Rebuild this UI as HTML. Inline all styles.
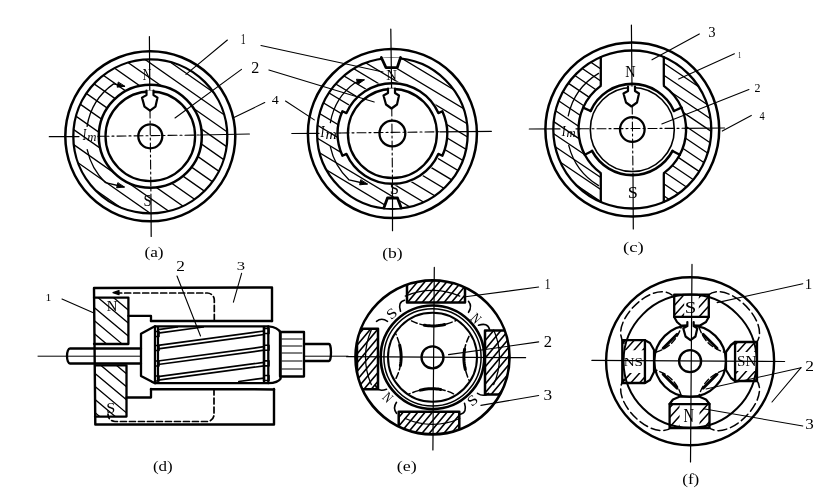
<!DOCTYPE html><html><head><meta charset="utf-8"><style>html,body{margin:0;padding:0;background:#fff;}svg{display:block;font-family:"Liberation Serif",serif;filter:grayscale(1);}</style></head><body><svg width="837" height="496" viewBox="0 0 837 496" fill="none" stroke="#000" stroke-linecap="round" stroke-linejoin="round">
<defs>
</defs>
<rect x="0" y="0" width="837" height="496" fill="#fff" stroke="none"/>
<clipPath id="hc1"><path d="M73.3 136.3a77 77 0 1 0 154 0a77 77 0 1 0 -154 0ZM98.8 136.3a51.5 51.5 0 1 0 103 0a51.5 51.5 0 1 0 -103 0Z" clip-rule="evenodd" fill-rule="evenodd"/></clipPath>
<g clip-path="url(#hc1)"><path d="M-42.18 -146.71L482.07 220.38M-49.24 -136.63L475.02 230.46M-56.29 -126.56L467.96 240.53M-63.35 -116.48L460.91 250.61M-70.4 -106.41L453.85 260.68M-77.46 -96.33L446.8 270.76M-84.51 -86.25L439.74 280.83M-91.57 -76.18L432.69 290.91M-98.62 -66.1L425.63 300.99M-105.68 -56.03L418.58 311.06M-112.73 -45.95L411.52 321.14M-119.79 -35.88L404.47 331.21M-126.84 -25.8L397.41 341.29M-133.9 -15.73L390.36 351.36M-140.95 -5.65L383.3 361.44M-148.01 4.43L376.25 371.52M-155.06 14.5L369.19 381.59M-162.12 24.58L362.14 391.67M-169.17 34.65L355.08 401.74M-176.23 44.73L348.03 411.82" stroke-width="1.3" stroke-linecap="butt"/></g>
<circle cx="150.3" cy="136.3" r="85" stroke-width="2.5" />
<circle cx="150.3" cy="136.3" r="77" stroke-width="2.3" />
<circle cx="150.3" cy="136.3" r="51.5" stroke-width="2.5" />
<circle cx="150.3" cy="136.3" r="44.8" stroke-width="2.3" fill="#fff"/>
<circle cx="150.3" cy="136.3" r="12" stroke-width="2.3" />
<path d="M87.09 126.29A64 64 0 0 1 113.59 83.87Q119.05 85.09 124.5 86.3" stroke-width="1.3" />
<path d="M124.5 86.3L117.14 87.17L118.2 82.39Z" fill="#000" stroke-width="1.0"/>
<path d="M87.21 149.71A64.5 64.5 0 0 0 105.49 182.7Q114.75 184.85 124 187" stroke-width="1.3" />
<path d="M124 187L116.63 187.8L117.74 183.03Z" fill="#000" stroke-width="1.0"/>
<line x1="49.3" y1="136.7" x2="79" y2="136.6" stroke-width="1.2" />
<line x1="98" y1="136.4" x2="100" y2="136.3" stroke-width="1.2" />
<line x1="200" y1="135" x2="249.4" y2="134" stroke-width="1.2" />
<line x1="100" y1="136.3" x2="200" y2="135" stroke-width="1.1" stroke-dasharray="9 3 2 3"/>
<line x1="149.4" y1="36.5" x2="149.8" y2="92" stroke-width="1.2" />
<line x1="149.8" y1="92" x2="151" y2="200" stroke-width="1.1" stroke-dasharray="9 3 2 3"/>
<line x1="151" y1="200" x2="151.2" y2="236.5" stroke-width="1.2" />
<path d="M146.5 90.6L146.5 95.1L142 97.6L144.5 106.6L150 110.6L155.5 106.6L157.5 97.6L153.5 95.1L153.5 90.6" stroke-width="2.2" fill="#fff"/>
<line x1="227.4" y1="40" x2="186" y2="74.4" stroke-width="1.1" />
<line x1="241.5" y1="69.4" x2="175" y2="118" stroke-width="1.1" />
<line x1="264.7" y1="102.6" x2="233.4" y2="117.7" stroke-width="1.1" />
<clipPath id="hc2"><path d="M317.1 133.5a75.3 75.3 0 1 0 150.6 0a75.3 75.3 0 1 0 -150.6 0ZM340.4 133.5a52 52 0 1 0 104 0a52 52 0 1 0 -104 0Z" clip-rule="evenodd" fill-rule="evenodd"/></clipPath>
<g clip-path="url(#hc2)"><path d="M176.84 -129.06L725.42 200.57M171.07 -119.46L719.66 210.17M165.3 -109.86L713.89 219.77M159.53 -100.25L708.12 229.37M153.76 -90.65L702.35 238.97M147.99 -81.05L696.58 248.57M142.23 -71.45L690.81 258.17M136.46 -61.85L685.04 267.77M130.69 -52.25L679.28 277.37M124.92 -42.65L673.51 286.97M119.15 -33.05L667.74 296.57M113.38 -23.45L661.97 306.17M107.62 -13.85L656.2 315.77M101.85 -4.25L650.43 325.37M96.08 5.35L644.67 334.97M90.31 14.95L638.9 344.57M84.54 24.55L633.13 354.17M78.77 34.15L627.36 363.77M73.01 43.75L621.59 373.37M67.24 53.35L615.82 382.97M61.47 62.95L610.06 392.57" stroke-width="1.3" stroke-linecap="butt"/></g>
<circle cx="392.4" cy="133.5" r="84.5" stroke-width="2.5" />
<circle cx="392.4" cy="133.5" r="75.3" stroke-width="2.3" />
<path d="M438.35 113.04A50.3 50.3 0 0 0 346.45 113.04L342.43 111.25A54.7 54.7 0 0 0 342.43 155.75L346.45 153.96A50.3 50.3 0 0 0 438.35 153.96L442.37 155.75A54.7 54.7 0 0 0 442.37 111.25L438.35 113.04Z" stroke-width="2.4" fill="#fff"/>
<circle cx="392.4" cy="133.5" r="44.5" stroke-width="2.3" />
<circle cx="392.4" cy="133.5" r="12.9" stroke-width="2.3" />
<path d="M381.3 57.5L386 67.7L397.2 67.7L400.6 57.5" stroke-width="2.8" fill="#fff"/>
<path d="M383.8 208L387.5 198L397.5 198L401.2 208" stroke-width="2.8" fill="#fff"/>
<path d="M330.36 122.56A63 63 0 0 1 355.37 82.53Q359.68 81.27 364 80" stroke-width="1.3" />
<path d="M364 80L357.97 84.32L356.59 79.62Z" fill="#000" stroke-width="1.0"/>
<path d="M330.29 146.7A63.5 63.5 0 0 0 349.09 179.94Q358.05 181.97 367 184" stroke-width="1.3" />
<path d="M367 184L359.63 184.84L360.71 180.06Z" fill="#000" stroke-width="1.0"/>
<line x1="291.8" y1="133.5" x2="319" y2="133.3" stroke-width="1.2" />
<line x1="337" y1="133.1" x2="340" y2="133" stroke-width="1.2" />
<line x1="440" y1="131.8" x2="491.4" y2="131.3" stroke-width="1.2" />
<line x1="340" y1="133" x2="440" y2="131.8" stroke-width="1.1" stroke-dasharray="9 3 2 3"/>
<line x1="390.8" y1="29" x2="391.6" y2="90" stroke-width="1.2" />
<line x1="391.6" y1="90" x2="392.5" y2="185" stroke-width="1.1" stroke-dasharray="9 3 2 3"/>
<line x1="392.5" y1="185" x2="392.5" y2="230.7" stroke-width="1.2" />
<path d="M388 88.5L388 93L383.5 95.5L386 104.5L391.5 108.5L397 104.5L399 95.5L395 93L395 88.5" stroke-width="2.2" fill="#fff"/>
<line x1="261" y1="45.5" x2="383" y2="72" stroke-width="1.1" />
<line x1="268.9" y1="70" x2="374.2" y2="102" stroke-width="1.1" />
<line x1="285.5" y1="101" x2="314.3" y2="119.9" stroke-width="1.1" />
<clipPath id="hc3"><path d="M553.3 129.5a79 79 0 1 0 158 0a79 79 0 1 0 -158 0ZM578.5 129.5a53.8 53.8 0 1 0 107.6 0a53.8 53.8 0 1 0 -107.6 0Z" clip-rule="evenodd" fill-rule="evenodd"/></clipPath>
<g clip-path="url(#hc3)"><path d="M429.96 -142.78L960.55 215.11M424.37 -134.49L954.96 223.4M418.78 -126.2L949.36 231.69M413.19 -117.91L943.77 239.98M407.6 -109.62L938.18 248.27M402 -101.33L932.59 256.56M396.41 -93.03L927 264.85M390.82 -84.74L921.4 273.14M385.23 -76.45L915.81 281.43M379.64 -68.16L910.22 289.72M374.04 -59.87L904.63 298.01M368.45 -51.58L899.04 306.3M362.86 -43.29L893.44 314.59M357.27 -35L887.85 322.88M351.68 -26.71L882.26 331.17M346.08 -18.42L876.67 339.46M340.49 -10.13L871.08 347.75M334.9 -1.84L865.48 356.04M329.31 6.45L859.89 364.33M323.72 14.74L854.3 372.62M318.12 23.03L848.71 380.91M312.53 31.32L843.12 389.2M306.94 39.61L837.53 397.49M301.35 47.9L831.93 405.79" stroke-width="1.3" stroke-linecap="butt"/></g>
<path d="M600.8 40H663.8V100H600.8Z M600.8 160H663.8V222H600.8Z" fill="#fff" stroke="none"/>
<circle cx="632.3" cy="129.5" r="86.9" stroke-width="2.5" />
<circle cx="632.3" cy="129.5" r="79" stroke-width="2.3" />
<line x1="600.8" y1="57.05" x2="600.8" y2="85.89" stroke-width="2.3" />
<line x1="600.8" y1="201.95" x2="600.8" y2="173.11" stroke-width="2.3" />
<line x1="663.8" y1="57.05" x2="663.8" y2="85.89" stroke-width="2.3" />
<line x1="663.8" y1="201.95" x2="663.8" y2="173.11" stroke-width="2.3" />
<path d="M578.5 129.5a53.8 53.8 0 1 0 107.6 0a53.8 53.8 0 1 0 -107.6 0Z" fill="#fff" stroke="none"/>
<path d="M679.8 154.76A53.8 53.8 0 0 0 681.45 107.62" stroke-width="2.4" />
<line x1="679.8" y1="154.76" x2="672.56" y2="150.91" stroke-width="2.3" />
<line x1="681.45" y1="107.62" x2="673.96" y2="110.95" stroke-width="2.3" />
<path d="M583.15 107.62A53.8 53.8 0 0 0 584.8 154.76" stroke-width="2.4" />
<line x1="583.15" y1="107.62" x2="590.64" y2="110.95" stroke-width="2.3" />
<line x1="584.8" y1="154.76" x2="592.04" y2="150.91" stroke-width="2.3" />
<path d="M681.45 107.62A53.8 53.8 0 0 0 663.8 85.89" stroke-width="2.3" />
<path d="M600.8 85.89A53.8 53.8 0 0 0 583.15 107.62" stroke-width="2.3" />
<path d="M584.8 154.76A53.8 53.8 0 0 0 600.8 173.11" stroke-width="2.3" />
<path d="M663.8 173.11A53.8 53.8 0 0 0 679.8 154.76" stroke-width="2.3" />
<path d="M673.96 110.95A45.6 45.6 0 0 0 590.64 110.95" stroke-width="2.6" />
<path d="M592.04 150.91A45.6 45.6 0 0 0 672.56 150.91" stroke-width="2.6" />
<circle cx="632.3" cy="129.5" r="42" stroke-width="1.6" />
<circle cx="632.3" cy="129.5" r="12.3" stroke-width="2.3" />
<path d="M568.23 115.88A65.5 65.5 0 0 1 598.57 73.36" stroke-width="1.3" />
<path d="M568.75 145.35A65.5 65.5 0 0 0 598.57 185.64" stroke-width="1.3" />
<line x1="529.3" y1="129" x2="560" y2="128.9" stroke-width="1.2" />
<line x1="576" y1="128.85" x2="580" y2="128.8" stroke-width="1.2" />
<line x1="685" y1="128.3" x2="724.6" y2="128" stroke-width="1.2" />
<line x1="580" y1="128.8" x2="685" y2="128.3" stroke-width="1.1" stroke-dasharray="9 3 2 3"/>
<line x1="631.4" y1="25" x2="632" y2="88" stroke-width="1.2" />
<line x1="632" y1="88" x2="633" y2="175" stroke-width="1.1" stroke-dasharray="9 3 2 3"/>
<line x1="633" y1="175" x2="633.3" y2="229" stroke-width="1.2" />
<path d="M628 86.5L628 91L623.5 93.5L626 102.5L631.5 106.5L637 102.5L639 93.5L635 91L635 86.5" stroke-width="2.2" fill="#fff"/>
<line x1="699.3" y1="33.9" x2="652" y2="59.8" stroke-width="1.1" />
<line x1="734.4" y1="53.7" x2="678.7" y2="79.1" stroke-width="1.1" />
<line x1="748.9" y1="89.5" x2="661.8" y2="123.9" stroke-width="1.1" />
<line x1="751.3" y1="115.4" x2="722.3" y2="131.1" stroke-width="1.1" />
<path d="M272 321L272 287.5L94 288L95.3 424.5L274 424.5L274 389" stroke-width="2.4" />
<clipPath id="hc4"><path d="M94 297.6H128.4V344H94Z M95 365.3H126.5V416.6H95Z" clip-rule="evenodd" fill-rule="evenodd"/></clipPath>
<g clip-path="url(#hc4)"><path d="M27.41 199.23L280.21 411.35M20.98 206.89L273.78 419.01M14.56 214.55L267.35 426.67M8.13 222.21L260.92 434.33M1.7 229.87L254.49 441.99M-4.73 237.53L248.07 449.65M-11.16 245.19L241.64 457.31M-17.58 252.85L235.21 464.97M-24.01 260.51L228.78 472.63M-30.44 268.17L222.36 480.29M-36.87 275.84L215.93 487.96M-43.3 283.5L209.5 495.62M-49.72 291.16L203.07 503.28M-56.15 298.82L196.64 510.94" stroke-width="1.3" stroke-linecap="butt"/></g>
<path d="M94 297.6H128.4V344H94" stroke-width="2.3" />
<path d="M95 365.3H126.5V416.6H95" stroke-width="2.3" />
<path d="M128.4 315.9H151V321" stroke-width="2.3" />
<path d="M126.5 397.5H151V389" stroke-width="2.3" />
<line x1="151" y1="321" x2="272" y2="321" stroke-width="2.5" />
<line x1="151" y1="389.2" x2="274" y2="389.4" stroke-width="2.5" />
<path d="M155 326.3H268.3V383.2H155Z" stroke-width="2.3" fill="#fff"/>
<path d="M155 326.3L151.6 328L141 333.7V375.9L151.6 381.6L155 383.2" stroke-width="2.3" />
<path d="M268.3 326.3Q278 327 280.6 332.7V378.7Q278 383 268.3 383.2" stroke-width="2.3" />
<path d="M280 332H304V376.5H280Z" stroke-width="2.3" />
<line x1="282" y1="339" x2="302" y2="339" stroke-width="1" />
<line x1="282" y1="346" x2="302" y2="346" stroke-width="1" />
<line x1="282" y1="353" x2="302" y2="353" stroke-width="1" />
<line x1="282" y1="361" x2="302" y2="361" stroke-width="1" />
<line x1="282" y1="369" x2="302" y2="369" stroke-width="1" />
<path d="M141 348.5H70A3 7.5 0 0 0 70 363.5H141" stroke-width="2.3" />
<path d="M304 344H329A2 8.5 0 0 1 329 361H304" stroke-width="2.3" />
<line x1="38" y1="356.2" x2="141" y2="356.2" stroke-width="1" />
<line x1="304" y1="356.2" x2="348" y2="356.2" stroke-width="1" />
<line x1="158" y1="329.61" x2="177.33" y2="327" stroke-width="1.7" />
<line x1="158" y1="333.11" x2="203.26" y2="327" stroke-width="1.7" />
<line x1="158" y1="345.31" x2="264" y2="331" stroke-width="1.7" />
<line x1="158" y1="348.81" x2="264" y2="334.5" stroke-width="1.7" />
<line x1="158" y1="361.01" x2="264" y2="346.7" stroke-width="1.7" />
<line x1="158" y1="364.51" x2="264" y2="350.2" stroke-width="1.7" />
<line x1="158" y1="376.71" x2="264" y2="362.4" stroke-width="1.7" />
<line x1="158" y1="380.21" x2="264" y2="365.9" stroke-width="1.7" />
<line x1="238.81" y1="381.5" x2="264" y2="378.1" stroke-width="1.7" />
<path d="M155 331.5H159V336.5H155" stroke-width="1.6" />
<path d="M155 345.5H159V350.5H155" stroke-width="1.6" />
<path d="M155 361.0H159V366.0H155" stroke-width="1.6" />
<path d="M155 376.0H159V381.0H155" stroke-width="1.6" />
<path d="M264 328.5H269V333.5H264" stroke-width="1.6" />
<path d="M264 345.3H269V350.3H264" stroke-width="1.6" />
<path d="M264 360.9H269V365.9H264" stroke-width="1.6" />
<path d="M264 375.5H269V380.5H264" stroke-width="1.6" />
<line x1="158" y1="327" x2="158" y2="381" stroke-width="2.2" />
<line x1="264" y1="327" x2="264" y2="381" stroke-width="2.6" />
<path d="M115.7 293H207A7 7 0 0 1 214.3 300V321" stroke-width="1.7" stroke-dasharray="6 3"/>
<path d="M214 389V414A7 7 0 0 1 207 421.5H115A7 7 0 0 1 108 414" stroke-width="1.7" stroke-dasharray="6 3"/>
<path d="M113 292.6L119 290.5L119 294.7Z" fill="#000" stroke-width="1.2"/>
<line x1="62" y1="299" x2="93.9" y2="313" stroke-width="1.1" />
<line x1="177" y1="276" x2="200.5" y2="336" stroke-width="1.1" />
<line x1="241.6" y1="273.4" x2="233.4" y2="302.2" stroke-width="1.1" />
<clipPath id="ce"><circle cx="432.5" cy="357.3" r="77"/></clipPath>
<g clip-path="url(#ce)">
<clipPath id="hc5"><path d="M407 270h58v32.6h-58Z" clip-rule="evenodd" fill-rule="evenodd"/></clipPath>
<g clip-path="url(#hc5)"><path d="M351.85 333.96L468.32 195.15M356.14 337.56L472.61 198.75M360.43 341.16L476.9 202.35M364.72 344.76L481.19 205.95M369.01 348.36L485.48 209.55M373.3 351.96L489.77 213.15M377.59 355.56L494.06 216.75M381.88 359.16L498.35 220.35M386.17 362.76L502.64 223.95M390.46 366.36L506.93 227.55M394.75 369.96L511.22 231.15M399.04 373.56L515.51 234.75M403.33 377.16L519.8 238.35" stroke-width="1.6" stroke-linecap="butt"/></g>
<rect x="407" y="270" width="58" height="32.6" stroke="#000" stroke-width="2.5"/>
</g>
<g clip-path="url(#ce)">
<clipPath id="hc6"><path d="M357 328.7h21v60.5h-21Z" clip-rule="evenodd" fill-rule="evenodd"/></clipPath>
<g clip-path="url(#hc6)"><path d="M293.63 403.35L398.4 278.49M297.92 406.95L402.69 282.09M302.21 410.55L406.98 285.69M306.49 414.15L411.27 289.29M310.78 417.75L415.56 292.89M315.07 421.35L419.85 296.49M319.36 424.95L424.14 300.08M323.65 428.55L428.43 303.68M327.94 432.15L432.72 307.28M332.23 435.75L437.01 310.88M336.52 439.35L441.3 314.48" stroke-width="1.6" stroke-linecap="butt"/></g>
<rect x="357" y="328.7" width="21" height="60.5" stroke="#000" stroke-width="2.5"/>
</g>
<g clip-path="url(#ce)">
<clipPath id="hc7"><path d="M485 330.5h30v64h-30Z" clip-rule="evenodd" fill-rule="evenodd"/></clipPath>
<g clip-path="url(#hc7)"><path d="M411.52 410.96L532.36 266.94M415.81 414.56L536.65 270.54M420.1 418.16L540.94 274.14M424.39 421.76L545.23 277.74M428.68 425.36L549.52 281.34M432.96 428.96L553.81 284.94M437.25 432.56L558.1 288.54M441.54 436.16L562.39 292.14M445.83 439.76L566.68 295.74M450.12 443.36L570.97 299.34M454.41 446.96L575.26 302.94M458.7 450.56L579.55 306.54M462.99 454.16L583.84 310.14M467.28 457.76L588.13 313.74" stroke-width="1.6" stroke-linecap="butt"/></g>
<rect x="485" y="330.5" width="30" height="64" stroke="#000" stroke-width="2.5"/>
</g>
<g clip-path="url(#ce)">
<clipPath id="hc8"><path d="M398.7 411.8h60.6v30h-60.6Z" clip-rule="evenodd" fill-rule="evenodd"/></clipPath>
<g clip-path="url(#hc8)"><path d="M344.12 473.85L460.6 335.04M348.41 477.45L464.89 338.64M352.7 481.05L469.18 342.24M356.99 484.65L473.47 345.84M361.28 488.25L477.76 349.44M365.57 491.85L482.05 353.04M369.86 495.45L486.34 356.64M374.15 499.05L490.63 360.24M378.44 502.65L494.92 363.84M382.73 506.25L499.21 367.44M387.02 509.85L503.5 371.04M391.31 513.45L507.79 374.64M395.6 517.05L512.08 378.24M399.89 520.65L516.37 381.84" stroke-width="1.6" stroke-linecap="butt"/></g>
<rect x="398.7" y="411.8" width="60.6" height="30" stroke="#000" stroke-width="2.5"/>
</g>
<circle cx="432.5" cy="357.3" r="77" stroke-width="2.7" />
<circle cx="432.5" cy="357.3" r="51.8" stroke-width="2.6" />
<circle cx="432.5" cy="357.3" r="48.6" stroke-width="1.5" />
<circle cx="432.5" cy="357.3" r="44.5" stroke-width="2.0" />
<g transform="rotate(0 432.5 357.3)">
<path d="M411.5 320.8Q432.5 331.3 456.5 320.3" stroke-width="1.5" stroke-dasharray="6 3"/>
<path d="M424.37 325.17L426.35 325.49L428.34 325.72L430.34 325.87L432.35 325.93L434.38 325.9L436.41 325.78L438.46 325.58L440.53 325.29L442.6 324.92L444.69 324.46" stroke-width="3.0" />
</g>
<g transform="rotate(90 432.5 357.3)">
<path d="M411.5 320.8Q432.5 331.3 456.5 320.3" stroke-width="1.5" stroke-dasharray="6 3"/>
<path d="M424.37 325.17L426.35 325.49L428.34 325.72L430.34 325.87L432.35 325.93L434.38 325.9L436.41 325.78L438.46 325.58L440.53 325.29L442.6 324.92L444.69 324.46" stroke-width="3.0" />
</g>
<g transform="rotate(180 432.5 357.3)">
<path d="M411.5 320.8Q432.5 331.3 456.5 320.3" stroke-width="1.5" stroke-dasharray="6 3"/>
<path d="M424.37 325.17L426.35 325.49L428.34 325.72L430.34 325.87L432.35 325.93L434.38 325.9L436.41 325.78L438.46 325.58L440.53 325.29L442.6 324.92L444.69 324.46" stroke-width="3.0" />
</g>
<g transform="rotate(270 432.5 357.3)">
<path d="M411.5 320.8Q432.5 331.3 456.5 320.3" stroke-width="1.5" stroke-dasharray="6 3"/>
<path d="M424.37 325.17L426.35 325.49L428.34 325.72L430.34 325.87L432.35 325.93L434.38 325.9L436.41 325.78L438.46 325.58L440.53 325.29L442.6 324.92L444.69 324.46" stroke-width="3.0" />
</g>
<path d="M493.71 384.55A67 67 0 0 0 493.71 330.05" stroke-width="1.3" />
<path d="M459.75 296.09A67 67 0 0 0 405.25 296.09" stroke-width="1.3" />
<path d="M371.29 330.05A67 67 0 0 0 371.29 384.55" stroke-width="1.3" />
<path d="M405.25 418.51A67 67 0 0 0 459.75 418.51" stroke-width="1.3" />
<g transform="rotate(0 432.5 357.3)">
<path d="M404.5 300.3Q397.5 302.3 400.5 311.3" stroke-width="1.6" />
<path d="M376.5 321.3Q381.5 317.3 387.5 321.3" stroke-width="1.6" />
</g>
<g transform="rotate(90 432.5 357.3)">
<path d="M404.5 300.3Q397.5 302.3 400.5 311.3" stroke-width="1.6" />
<path d="M376.5 321.3Q381.5 317.3 387.5 321.3" stroke-width="1.6" />
</g>
<g transform="rotate(180 432.5 357.3)">
<path d="M404.5 300.3Q397.5 302.3 400.5 311.3" stroke-width="1.6" />
<path d="M376.5 321.3Q381.5 317.3 387.5 321.3" stroke-width="1.6" />
</g>
<g transform="rotate(270 432.5 357.3)">
<path d="M404.5 300.3Q397.5 302.3 400.5 311.3" stroke-width="1.6" />
<path d="M376.5 321.3Q381.5 317.3 387.5 321.3" stroke-width="1.6" />
</g>
<circle cx="432.5" cy="357.3" r="11" stroke-width="2.3" />
<line x1="346.6" y1="356.7" x2="525.6" y2="357.7" stroke-width="1.2" />
<line x1="434.3" y1="267.4" x2="432.9" y2="450" stroke-width="1.2" />
<line x1="538.7" y1="287" x2="465.4" y2="296.8" stroke-width="1.1" />
<line x1="538.7" y1="341.9" x2="448.5" y2="354.6" stroke-width="1.1" />
<line x1="538.7" y1="395.5" x2="480.9" y2="405.4" stroke-width="1.1" />
<circle cx="690.1" cy="361.2" r="84" stroke-width="2.4" />
<circle cx="690.1" cy="361.2" r="66.6" stroke-width="2.0" />
<g transform="rotate(0 690.1 361.2)">
<path d="M708.1 295.2C728.1 279.2 772.1 323.2 756.1 343.2" stroke-width="1.5" stroke-dasharray="9 4"/>
</g>
<g transform="rotate(90 690.1 361.2)">
<path d="M708.1 295.2C728.1 279.2 772.1 323.2 756.1 343.2" stroke-width="1.5" stroke-dasharray="9 4"/>
</g>
<g transform="rotate(180 690.1 361.2)">
<path d="M708.1 295.2C728.1 279.2 772.1 323.2 756.1 343.2" stroke-width="1.5" stroke-dasharray="9 4"/>
</g>
<g transform="rotate(270 690.1 361.2)">
<path d="M708.1 295.2C728.1 279.2 772.1 323.2 756.1 343.2" stroke-width="1.5" stroke-dasharray="9 4"/>
</g>
<clipPath id="hc9"><path d="M674.2 294.6H684.2V317H674.2Z M698.8 294.6H708.8V317H698.8Z" clip-rule="evenodd" fill-rule="evenodd"/></clipPath>
<g clip-path="url(#hc9)"><path d="M634.03 330.76L710.32 246.04M638.86 335.11L715.15 250.39M643.7 339.46L719.98 254.74M648.53 343.81L724.81 259.09M653.36 348.16L729.64 263.44M658.19 352.51L734.47 267.79M663.02 356.85L739.3 272.14M667.85 361.2L744.13 276.49M672.68 365.55L748.96 280.83" stroke-width="1.5" stroke-linecap="butt"/></g>
<path d="M674.2 294.6H708.8V317H674.2Z" stroke-width="2.3" />
<path d="M674.2 317L708.8 317L706 322L700 325.5L681 325.5L677 322Z" stroke-width="2.2" fill="#fff"/>
<clipPath id="hc10"><path d="M622.3 340.2H645V350.2H622.3Z M622.3 373H645V383H622.3Z" clip-rule="evenodd" fill-rule="evenodd"/></clipPath>
<g clip-path="url(#hc10)"><path d="M569.87 392.31L657.52 294.96M574.7 396.66L662.35 299.31M579.53 401.01L667.18 303.66M584.36 405.36L672.01 308.01M589.19 409.71L676.85 312.35M594.02 414.06L681.68 316.7M598.85 418.41L686.51 321.05M603.68 422.75L691.34 325.4M608.51 427.1L696.17 329.75" stroke-width="1.5" stroke-linecap="butt"/></g>
<path d="M622.3 340.2H645V383H622.3Z" stroke-width="2.3" />
<path d="M645 340.2L645 383L650 380L654 372L654 350L650 343Z" stroke-width="2.2" fill="#fff"/>
<clipPath id="hc11"><path d="M735 342H757V352H735Z M735 371H757V381H735Z" clip-rule="evenodd" fill-rule="evenodd"/></clipPath>
<g clip-path="url(#hc11)"><path d="M686.03 389.58L767.66 298.92M690.86 393.93L772.49 303.27M695.69 398.28L777.32 307.62M700.52 402.63L782.15 311.97M705.35 406.98L786.98 316.32M710.18 411.33L791.81 320.67M715.01 415.68L796.64 325.02M719.84 420.03L801.47 329.37M724.67 424.38L806.3 333.71" stroke-width="1.5" stroke-linecap="butt"/></g>
<path d="M735 342H757V381H735Z" stroke-width="2.3" />
<path d="M735 342L735 381L731 378L726 370L726 352L731 345Z" stroke-width="2.2" fill="#fff"/>
<clipPath id="hc12"><path d="M669.6 404H679.6V428H669.6Z M699.5 404H709.5V428H699.5Z" clip-rule="evenodd" fill-rule="evenodd"/></clipPath>
<g clip-path="url(#hc12)"><path d="M626.88 445.56L712.4 350.58M631.71 449.91L717.23 354.93M636.54 454.26L722.06 359.28M641.37 458.61L726.89 363.63M646.2 462.96L731.72 367.98M651.03 467.31L736.55 372.33M655.86 471.65L741.38 376.68M660.69 476L746.21 381.03M665.52 480.35L751.04 385.38" stroke-width="1.5" stroke-linecap="butt"/></g>
<path d="M669.6 404H709.5V428H669.6Z" stroke-width="2.3" />
<path d="M669.6 404L709.5 404L706 399.5L699 396.6L680 396.6L673 399.5Z" stroke-width="2.2" fill="#fff"/>
<circle cx="690.1" cy="361.2" r="35.8" stroke-width="2.2" />
<g transform="rotate(0 690.1 361.2)">
<path d="M699.1 327.2Q705.1 346.2 724.1 352.2" stroke-width="1.4" stroke-dasharray="6 3"/>
<path d="M703.1 334.2Q710.1 341.2 717.1 348.2" stroke-width="2.8" />
</g>
<g transform="rotate(90 690.1 361.2)">
<path d="M699.1 327.2Q705.1 346.2 724.1 352.2" stroke-width="1.4" stroke-dasharray="6 3"/>
<path d="M703.1 334.2Q710.1 341.2 717.1 348.2" stroke-width="2.8" />
</g>
<g transform="rotate(180 690.1 361.2)">
<path d="M699.1 327.2Q705.1 346.2 724.1 352.2" stroke-width="1.4" stroke-dasharray="6 3"/>
<path d="M703.1 334.2Q710.1 341.2 717.1 348.2" stroke-width="2.8" />
</g>
<g transform="rotate(270 690.1 361.2)">
<path d="M699.1 327.2Q705.1 346.2 724.1 352.2" stroke-width="1.4" stroke-dasharray="6 3"/>
<path d="M703.1 334.2Q710.1 341.2 717.1 348.2" stroke-width="2.8" />
</g>
<path d="M687.35 322L687.35 326.15L683.3 328.4L685.55 336.5L690.5 340.1L695.45 336.5L697.25 328.4L693.65 326.15L693.65 322" stroke-width="2.2" fill="#fff"/>
<circle cx="690.1" cy="361.2" r="11" stroke-width="2.3" />
<line x1="591.9" y1="360.4" x2="784.6" y2="361.5" stroke-width="1.2" />
<line x1="692" y1="264.4" x2="690.5" y2="462" stroke-width="1.2" />
<line x1="802.8" y1="283.7" x2="717.1" y2="302.6" stroke-width="1.1" />
<line x1="801" y1="367.7" x2="706" y2="389" stroke-width="1.1" />
<line x1="801" y1="367.7" x2="772" y2="402" stroke-width="1.1" />
<line x1="802.8" y1="426" x2="703.4" y2="408.8" stroke-width="1.1" />
<text x="0" y="0" font-size="13.94"  font-family="Liberation Serif" fill="#000" stroke="none"  transform="translate(240.63 43.7) scale(0.7 1)">1</text>
<text x="0" y="0" font-size="15.76"  font-family="Liberation Serif" fill="#000" stroke="none"  transform="translate(251.28 72.7) scale(1.02 1)">2</text>
<text x="0" y="0" font-size="13.48"  font-family="Liberation Serif" fill="#000" stroke="none"  transform="translate(271.72 104.2) scale(1.04 1)">4</text>
<text x="0" y="0" font-size="16.79"  font-family="Liberation Serif" fill="#000" stroke="none"  transform="translate(142.64 80) scale(0.71 1)">N</text>
<text x="0" y="0" font-size="16.12"  font-family="Liberation Serif" fill="#000" stroke="none"  transform="translate(143.43 206.04) scale(0.92 1)">S</text>
<text x="0" y="0" font-size="15.16"  font-family="Liberation Serif" fill="#000" stroke="none"  transform="translate(144.42 257.14) scale(1.14 1)">(a)</text>
<text x="0" y="0" font-size="14.81"  font-family="Liberation Serif" fill="#000" stroke="none"  transform="translate(386.36 80) scale(1 1)">N</text>
<text x="0" y="0" font-size="16.42"  font-family="Liberation Serif" fill="#000" stroke="none"  transform="translate(389.73 194.34) scale(1.01 1)">S</text>
<text x="0" y="0" font-size="14.62"  font-family="Liberation Serif" fill="#000" stroke="none"  transform="translate(382.21 258.16) scale(1.2 1)">(b)</text>
<text x="0" y="0" font-size="14.63"  font-family="Liberation Serif" fill="#000" stroke="none"  transform="translate(708.27 36.65) scale(1 1)">3</text>
<text x="0" y="0" font-size="7.58"  font-family="Liberation Serif" fill="#000" stroke="none"  transform="translate(737.91 58) scale(0.87 1)">1</text>
<text x="0" y="0" font-size="12.73"  font-family="Liberation Serif" fill="#000" stroke="none"  transform="translate(754.46 92.4) scale(0.94 1)">2</text>
<text x="0" y="0" font-size="12.73"  font-family="Liberation Serif" fill="#000" stroke="none"  transform="translate(759.59 120.2) scale(0.81 1)">4</text>
<text x="0" y="0" font-size="16.18"  font-family="Liberation Serif" fill="#000" stroke="none"  transform="translate(625.17 76.6) scale(0.89 1)">N</text>
<text x="0" y="0" font-size="17.01"  font-family="Liberation Serif" fill="#000" stroke="none"  transform="translate(627.82 197.53) scale(1.07 1)">S</text>
<text x="0" y="0" font-size="14.73"  font-family="Liberation Serif" fill="#000" stroke="none"  transform="translate(622.96 252.43) scale(1.27 1)">(c)</text>
<text x="0" y="0" font-size="10.3"  font-family="Liberation Serif" fill="#000" stroke="none"  transform="translate(45.45 300.8) scale(1.14 1)">1</text>
<text x="0" y="0" font-size="14.55"  font-family="Liberation Serif" fill="#000" stroke="none"  transform="translate(176.22 270.6) scale(1.19 1)">2</text>
<text x="0" y="0" font-size="12.24"  font-family="Liberation Serif" fill="#000" stroke="none"  transform="translate(236.67 270.48) scale(1.36 1)">3</text>
<text x="0" y="0" font-size="15.27"  font-family="Liberation Serif" fill="#000" stroke="none"  transform="translate(106.76 311) scale(0.97 1)">N</text>
<text x="0" y="0" font-size="15.07"  font-family="Liberation Serif" fill="#000" stroke="none"  transform="translate(106.34 412.55) scale(1.08 1)">S</text>
<text x="0" y="0" font-size="14.73"  font-family="Liberation Serif" fill="#000" stroke="none"  transform="translate(152.94 471.23) scale(1.15 1)">(d)</text>
<text x="0" y="0" font-size="13.94"  font-family="Liberation Serif" fill="#000" stroke="none"  transform="translate(544.67 289.4) scale(0.82 1)">1</text>
<text x="0" y="0" font-size="15.76"  font-family="Liberation Serif" fill="#000" stroke="none"  transform="translate(543.66 347) scale(1.05 1)">2</text>
<text x="0" y="0" font-size="14.63"  font-family="Liberation Serif" fill="#000" stroke="none"  transform="translate(543.43 399.55) scale(1.18 1)">3</text>
<text x="0" y="0" font-size="14.29"  font-family="Liberation Serif" fill="#000" stroke="none"  transform="translate(396.79 470.93) scale(1.26 1)">(e)</text>
<text x="0" y="0" font-size="15.45"  font-family="Liberation Serif" fill="#000" stroke="none"  transform="translate(804.86 288.8) scale(0.96 1)">1</text>
<text x="0" y="0" font-size="15.45"  font-family="Liberation Serif" fill="#000" stroke="none"  transform="translate(805.21 371) scale(1.13 1)">2</text>
<text x="0" y="0" font-size="15.52"  font-family="Liberation Serif" fill="#000" stroke="none"  transform="translate(805.15 429.24) scale(1.1 1)">3</text>
<text x="0" y="0" font-size="14.13"  font-family="Liberation Serif" fill="#000" stroke="none"  transform="translate(682.23 483.96) scale(1.21 1)">(f)</text>
<text x="0" y="0" font-size="16.42"  font-family="Liberation Serif" fill="#000" stroke="none"  transform="translate(684.64 312.84) scale(1.27 1)">S</text>
<text x="0" y="0" font-size="13.28"  font-family="Liberation Serif" fill="#000" stroke="none"  transform="translate(623.65 365.77) scale(1.14 1)">NS</text>
<text x="0" y="0" font-size="13.88"  font-family="Liberation Serif" fill="#000" stroke="none"  transform="translate(737.02 365.66) scale(1.09 1)">SN</text>
<text x="0" y="0" font-size="18.32"  font-family="Liberation Serif" fill="#000" stroke="none"  transform="translate(683.56 422) scale(0.8 1)">N</text>
<text x="0" y="0" font-size="16.18" font-style="italic" font-family="Liberation Serif" fill="#000" stroke="none"  transform="translate(82.75 139.6) scale(0.64 1)">I</text>
<text x="0" y="0" font-size="11.91" font-style="italic" font-family="Liberation Serif" fill="#000" stroke="none"  transform="translate(87.36 140.6) scale(1.07 1)">m</text>
<text x="0" y="0" font-size="16.18" font-style="italic" font-family="Liberation Serif" fill="#000" stroke="none"  transform="translate(320.56 137) scale(0.74 1)">I</text>
<text x="0" y="0" font-size="14.68" font-style="italic" font-family="Liberation Serif" fill="#000" stroke="none"  transform="translate(325.46 138.9) scale(1.06 1)">m</text>
<text x="0" y="0" font-size="14.81" font-style="italic" font-family="Liberation Serif" fill="#000" stroke="none"  transform="translate(561.66 135.5) scale(0.79 1)">I</text>
<text x="0" y="0" font-size="13.19" font-style="italic" font-family="Liberation Serif" fill="#000" stroke="none"  transform="translate(566.56 137.2) scale(0.96 1)">m</text>
<text x="0" y="0" font-size="14.18"  font-family="Liberation Serif" fill="#000" stroke="none"  transform="translate(391.85 313.6) rotate(-40) translate(-4.88 4.61) scale(1.23 1)">S</text>
<text x="0" y="0" font-size="14.5"  font-family="Liberation Serif" fill="#000" stroke="none"  transform="translate(475.95 318.65) rotate(45) translate(-4.09 4.75) scale(0.77 1)">N</text>
<text x="0" y="0" font-size="14.5"  font-family="Liberation Serif" fill="#000" stroke="none"  transform="translate(387.85 397.45) rotate(45) translate(-4.09 4.75) scale(0.77 1)">N</text>
<text x="0" y="0" font-size="14.18"  font-family="Liberation Serif" fill="#000" stroke="none"  transform="translate(472.45 400.45) rotate(-40) translate(-4.88 4.61) scale(1.23 1)">S</text>
</svg></body></html>
